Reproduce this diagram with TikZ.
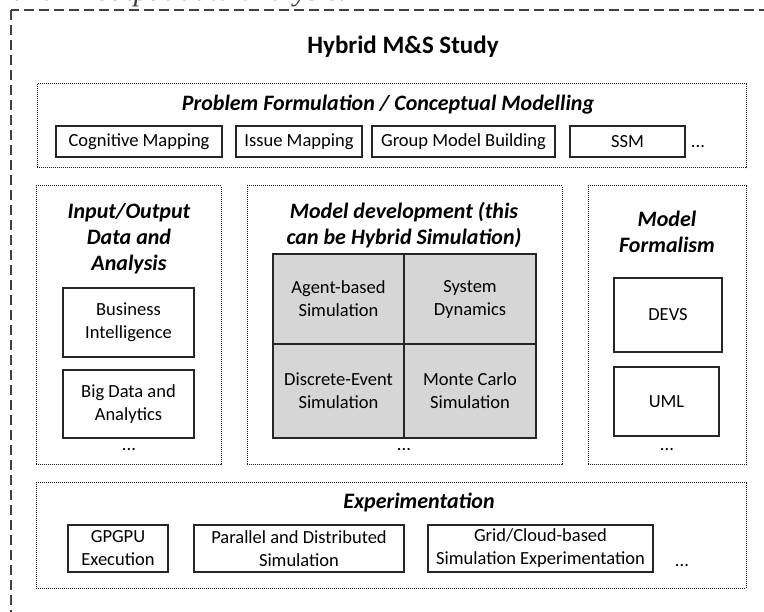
\documentclass[tikz,border=0pt]{standalone}
\usepackage{fontspec}
\setmainfont{Carlito}
\newfontfamily\captionfont{Liberation Serif}
\tikzset{
  outerbox/.style={draw=black!75, line width=1.3pt, dash pattern=on 10pt off 5pt},
  groupbox/.style={draw=black!90, line width=1pt, dash pattern=on 1pt off 1pt, inner sep=0pt},
  itembox/.style={draw=black!85, line width=1.1pt, align=center, inner sep=2pt,
    font=\fontsize{18.5}{23}\selectfont},
  simcell/.style={itembox, fill=black!16},
  grouptitle/.style={align=center, font=\bfseries\itshape\fontsize{22}{26}\selectfont},
  moredots/.style={font=\fontsize{18.5}{20}\selectfont, inner sep=0pt}
}
\begin{document}
\begin{tikzpicture}[x=1pt, y=-1pt]
    \useasboundingbox (0,0) rectangle (764,612);
    \clip (0,0) rectangle (764,612);

    % Caption line cut off at the top
    \node[anchor=base west, inner sep=0pt, text=black!75, font=\captionfont\itshape\fontsize{30}{30}\selectfont] (caption) at (12,0.5) {and in output data analysis.};

    % Draw the outer study frame
    \draw[outerbox] (11,10) rectangle (820,660);
    \node[font=\bfseries\fontsize{25}{29}\selectfont] (study) at (403,47) {Hybrid M\&S Study};

    % Problem formulation row
    \node[groupbox, minimum width=709pt, minimum height=84pt] (problem) at (391.5,126) {};
    \node[grouptitle] (problemtitle) at (388,105) {Problem Formulation / Conceptual Modelling};
    \node[itembox, minimum width=166pt, minimum height=31pt] (cogmap) at (139,141.5) {Cognitive Mapping};
    \node[itembox, minimum width=126pt, minimum height=31pt] (issuemap) at (299,141.5) {Issue Mapping};
    \node[itembox, minimum width=183pt, minimum height=31pt] (gmb) at (463.5,141.5) {Group Model Building};
    \node[itembox, minimum width=115pt, minimum height=31pt] (ssm) at (627.5,141.5) {SSM};
    \node[moredots] (problemdots) at (698,147) {...};

    % Input/output data column
    \node[groupbox, minimum width=185pt, minimum height=279pt] (iodata) at (128.5,325.5) {};
    \node[grouptitle] (iotitle) at (129,239) {Input/Output\\Data and\\Analysis};
    \node[itembox, minimum width=131pt, minimum height=69pt] (bi) at (128.5,322.5) {Business\\Intelligence};
    \node[itembox, minimum width=131pt, minimum height=68pt] (bigdata) at (128.5,404) {Big Data and\\Analytics};
    \node[moredots] (iodots) at (129,450) {...};

    % Model development column
    \node[groupbox, minimum width=315pt, minimum height=279pt] (modeldev) at (404.5,325.5) {};
    \node[grouptitle] (devtitle) at (404,225.5) {Model development (this\\can be Hybrid Simulation)};
    \node[simcell, minimum width=131pt, minimum height=90pt] (abs) at (338.5,299) {Agent-based\\Simulation};
    \node[simcell, minimum width=132pt, minimum height=90pt] (sd) at (470,299) {System\\Dynamics};
    \node[simcell, minimum width=131pt, minimum height=94pt] (des) at (338.5,391) {Discrete-Event\\Simulation};
    \node[simcell, minimum width=132pt, minimum height=94pt] (mcs) at (470,391) {Monte Carlo\\Simulation};
    \node[moredots] (devdots) at (404,450) {...};

    % Model formalism column
    \node[groupbox, minimum width=158pt, minimum height=279pt] (formalism) at (667,325.5) {};
    \node[grouptitle] (formtitle) at (667,232) {Model\\Formalism};
    \node[itembox, minimum width=108pt, minimum height=74pt] (devs) at (668,315) {DEVS};
    \node[itembox, minimum width=105pt, minimum height=69pt] (uml) at (666.5,401.5) {UML};
    \node[moredots] (formdots) at (667,450) {...};

    % Experimentation row
    \node[groupbox, minimum width=710pt, minimum height=105pt] (experiment) at (391,535.5) {};
    \node[grouptitle] (exptitle) at (419,503) {Experimentation};
    \node[itembox, minimum width=100pt, minimum height=47pt] (gpgpu) at (118,548.5) {GPGPU\\Execution};
    \node[itembox, minimum width=210pt, minimum height=47pt] (pads) at (299,548.5) {Parallel and Distributed\\Simulation};
    \node[itembox, minimum width=225pt, minimum height=47pt] (gridsim) at (540.5,548.5) {Grid/Cloud-based\\Simulation Experimentation};
    \node[moredots] (expdots) at (682,566) {...};

\end{tikzpicture}
\end{document}
